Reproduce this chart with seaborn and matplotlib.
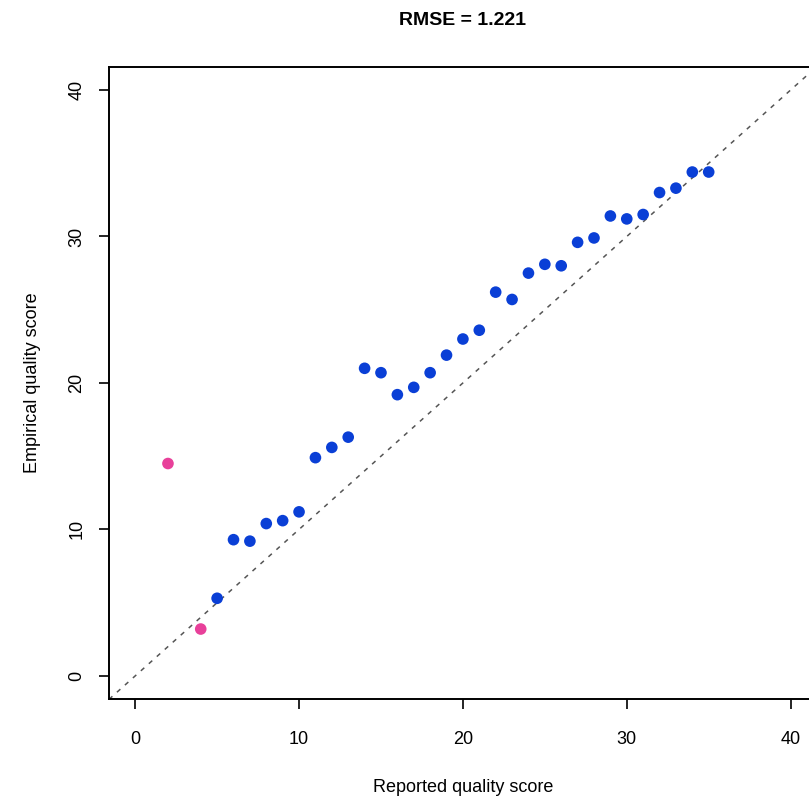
import numpy as np
import pandas as pd
import seaborn as sns
import matplotlib.pyplot as plt

# reported vs empirical quality
reported = [2, 4, 5, 6, 7, 8, 9, 10, 11, 12, 13, 14, 15, 16, 17, 18, 19, 20,
            21, 22, 23, 24, 25, 26, 27, 28, 29, 30, 31, 32, 33, 34, 35]
empirical = [14.5, 3.2, 5.3, 9.3, 9.2, 10.4, 10.6, 11.2, 14.9, 15.6, 16.3, 21.0,
             20.7, 19.2, 19.7, 20.7, 21.9, 23.0, 23.6, 26.2, 25.7, 27.5, 28.1,
             28.0, 29.6, 29.9, 31.4, 31.2, 31.5, 33.0, 33.3, 34.4, 34.4]
flag = ["low", "low"] + ["ok"] * 31
ticks = [0, 10, 20, 30, 40]

df = pd.DataFrame({"reported": reported, "empirical": empirical, "flag": flag})

sns.set_theme(style="white")
plt.rcParams["font.family"] = ["Liberation Sans", "DejaVu Sans"]
plt.rcParams["text.color"] = "black"
plt.rcParams["axes.labelcolor"] = "black"
plt.rcParams["xtick.color"] = "black"
plt.rcParams["ytick.color"] = "black"

fig = plt.figure(figsize=(8.09, 8.02), dpi=100)
ax = fig.add_axes([0.1347, 0.128, 0.875, 0.789])

lim = (-1.6, 41.6)
ax.plot(lim, lim, color="#555555", linestyle=(0, (3, 4)), linewidth=1.1, zorder=1)

sns.scatterplot(data=df, x="reported", y="empirical", hue="flag",
                palette={"low": "#E8409A", "ok": "#0A3FD6"},
                s=70, edgecolor="none", legend=False, ax=ax, zorder=3)

ax.set_xlim(lim)
ax.set_ylim(lim)
ax.set_xticks(ticks)
ax.set_yticks(ticks)
ax.set_yticklabels([str(t) for t in ticks], rotation=90, va="center")
ax.tick_params(axis="both", direction="out", length=7, width=1.2,
               color="black", labelcolor="black", labelsize=13,
               bottom=True, left=True)
ax.tick_params(axis="x", pad=16)
ax.tick_params(axis="y", pad=10)
for side in ax.spines.values():
    side.set_color("black")
    side.set_linewidth(1.4)

ax.set_xlabel("Reported quality score", fontsize=13, labelpad=22, color="black")
ax.set_ylabel("Empirical quality score", fontsize=13, labelpad=20, color="black")
fig.text(0.572, 0.975, "RMSE = 1.221", ha="center", va="center",
         fontsize=14, fontweight="bold", color="black")

fig.savefig("out.png", dpi=100)
